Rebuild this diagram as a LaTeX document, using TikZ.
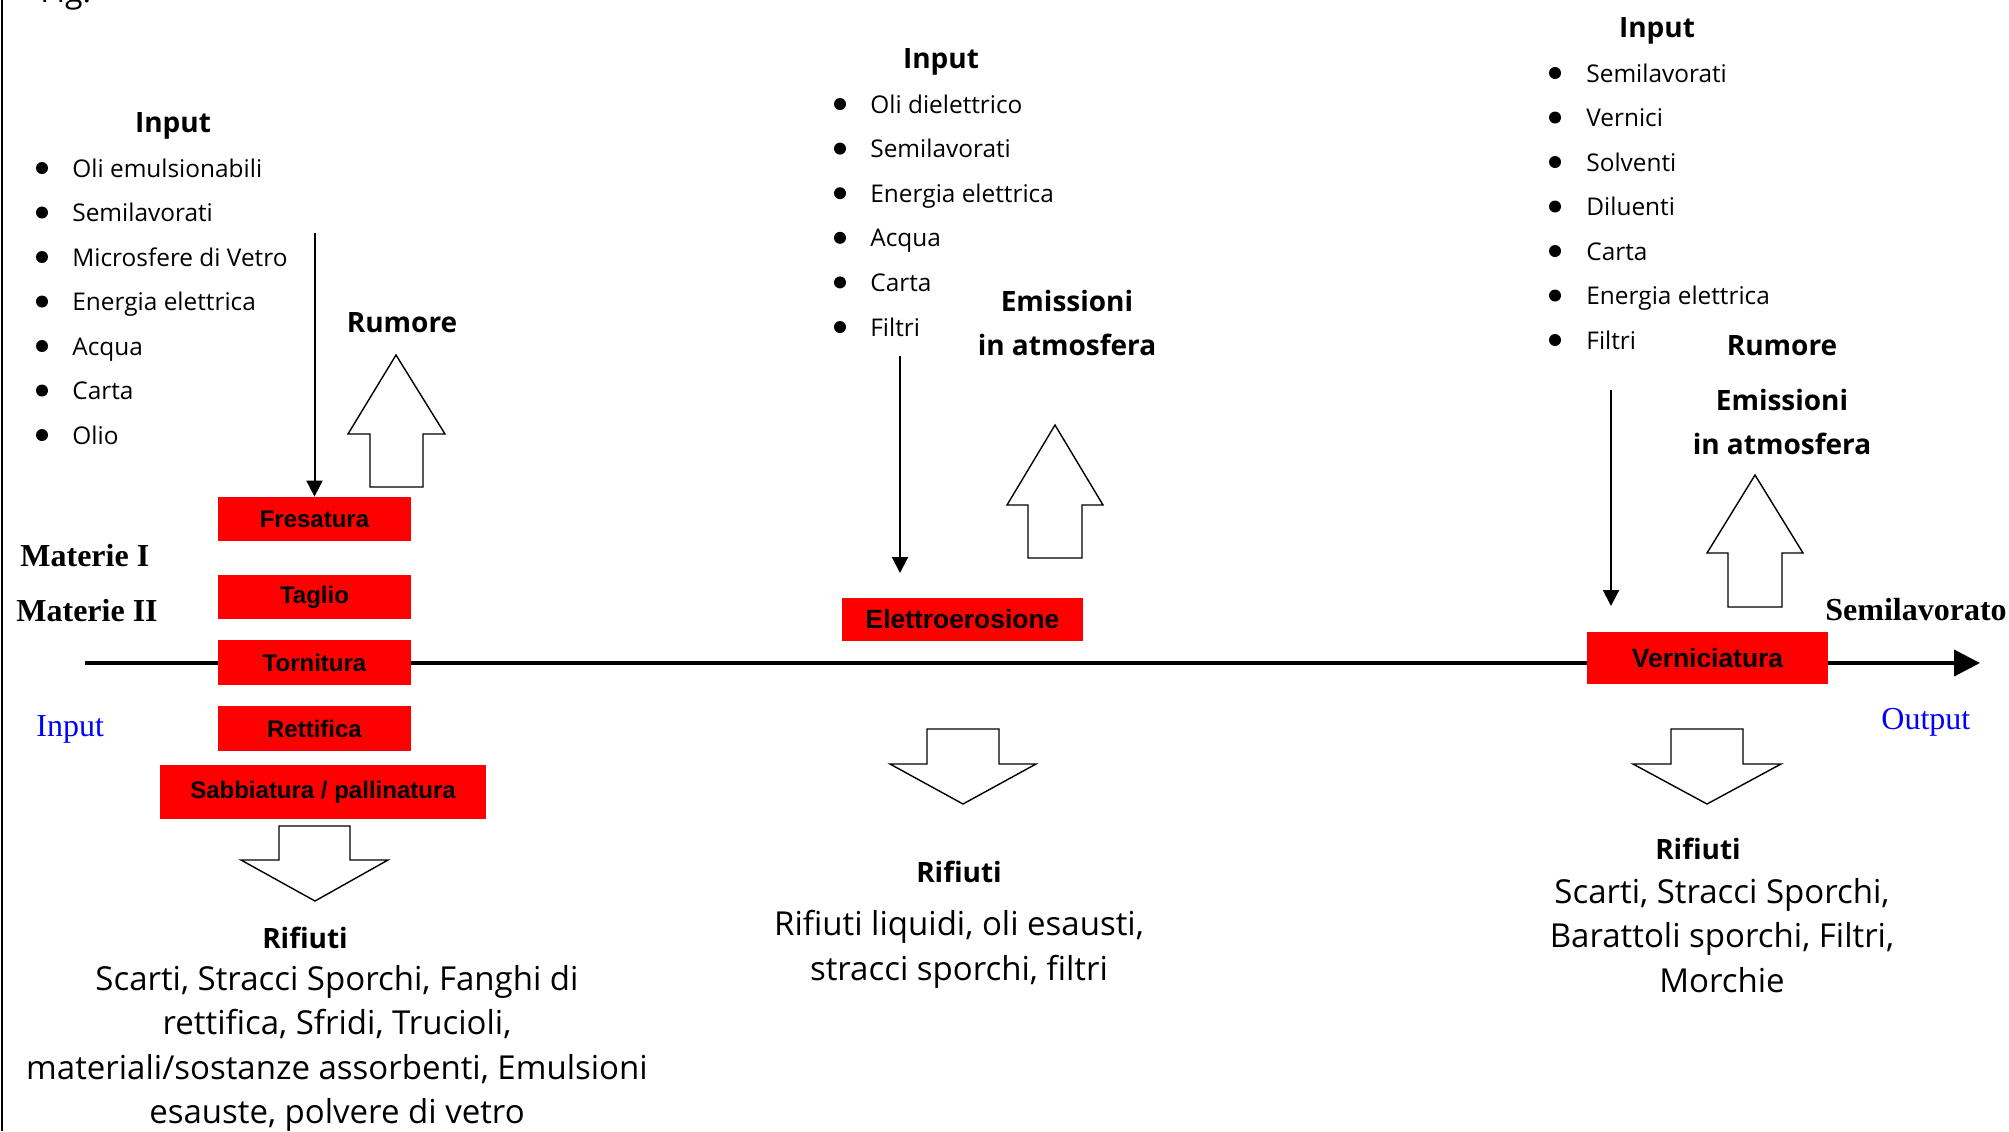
\documentclass[tikz,border=0pt]{standalone}
\usepackage{fontspec}
\setmainfont{Open Sans}
\newfontfamily\arialf{Liberation Sans}
\newfontfamily\timesf{Liberation Serif}
\usetikzlibrary{arrows.meta}
\definecolor{procred}{RGB}{255,0,0}
\definecolor{labelblue}{RGB}{0,0,255}
\begin{document}
\begin{tikzpicture}[x=0.5pt,y=-0.5pt,
  itemtext/.style={anchor=base west, inner sep=0pt, font=\fontsize{12.2}{14}\selectfont},
  headtext/.style={anchor=base, inner sep=0pt, font=\fontsize{14}{16}\selectfont\bfseries},
  wastetext/.style={anchor=base, inner sep=0pt, font=\fontsize{16.5}{18}\selectfont},
  bul/.style={circle, fill=black, inner sep=0pt, minimum size=6pt},
  procbox/.style={fill=procred, inner sep=0pt, text=black, font=\arialf\bfseries\fontsize{12}{14}\selectfont},
  procboxbig/.style={procbox, font=\arialf\bfseries\fontsize{13.2}{15}\selectfont},
  sidelabel/.style={anchor=base west, inner sep=0pt, font=\timesf\bfseries\fontsize{16}{18}\selectfont},
  iolabel/.style={anchor=base west, inner sep=0pt, text=labelblue, font=\timesf\fontsize{16}{18}\selectfont},
  thinarrow/.style={line width=1pt, -{Triangle[width=8pt,length=8pt]}},
  mainline/.style={line width=2pt, -{Triangle[width=13pt,length=13pt]}},
  hollow/.style={draw=black, fill=white, line width=0.7pt, line join=miter}
]
\useasboundingbox (0,0) rectangle (2009,1131);
\begin{scope}
\clip (0,0) rectangle (2009,1131);

% left border and clipped caption
\draw[line width=1pt] (2,0) -- (2,1131);
\node[anchor=base west, inner sep=0pt, font=\fontsize{16}{18}\selectfont] (fig) at (40,2) {Fig.};

% main process line
\coordinate (ms) at (85,663);
\coordinate (me) at (1980,663);
\draw[mainline] (ms) -- (me);

% ---------------- left group ----------------
\node[headtext] (in1) at (173,132) {Input};
\foreach \t [count=\i] in {Oli emulsionabili,Semilavorati,Microsfere di Vetro,Energia elettrica,Acqua,Carta,Olio}{
  \node[bul] (b1\i) at (42,{177+44.5*(\i-1)-9}) {};
  \node[itemtext] (t1\i) at (72,{177+44.5*(\i-1)}) {\t};
}
\node[headtext] (rum1) at (402,332) {Rumore};
\draw[hollow] (396,355) -- (445,434) -- (423,434) -- (423,487) -- (370,487) -- (370,434) -- (348,434) -- cycle;

\node[procbox, minimum width=96.5pt, minimum height=22pt] (fres) at (314.5,519) {Fresatura};
\node[procbox, minimum width=96.5pt, minimum height=22pt] (tagl) at (314.5,597) {Taglio};
\node[procbox, minimum width=96.5pt, minimum height=22.5pt] (torn) at (314.5,662.5) {Tornitura};
\node[procbox, minimum width=96.5pt, minimum height=22.5pt] (rett) at (314.5,728.5) {Rettifica};
\node[procbox, minimum width=163pt, minimum height=27pt] (sabb) at (323,792) {Sabbiatura / pallinatura};

\coordinate (a1s) at (314.5,233);
\draw[thinarrow] (a1s) -- (fres.north);

\node[sidelabel] (mat1) at (20,566) {Materie I};
\node[sidelabel] (mat2) at (16,621) {Materie II};
\node[iolabel] (inp) at (36,736) {Input};

\draw[hollow] (279,826) -- (350,826) -- (350,860) -- (388,860) -- (315,901) -- (241,860) -- (279,860) -- cycle;
\node[headtext] (rif1) at (305,948) {Rifiuti};
\node[wastetext] (w11) at (337,990) {Scarti, Stracci Sporchi, Fanghi di};
\node[wastetext] (w12) at (337,1034.5) {rettifica, Sfridi, Trucioli,};
\node[wastetext] (w13) at (337,1079) {materiali/sostanze assorbenti, Emulsioni};
\node[wastetext] (w14) at (337,1123.5) {esauste, polvere di vetro};

% ---------------- middle group ----------------
\node[headtext] (in2) at (941,68) {Input};
\foreach \t [count=\i] in {Oli dielettrico,Semilavorati,Energia elettrica,Acqua,Carta,Filtri}{
  \node[bul] (b2\i) at (840,{113+44.6*(\i-1)-9}) {};
  \node[itemtext] (t2\i) at (870,{113+44.6*(\i-1)}) {\t};
}
\node[headtext] (em2a) at (1067,311) {Emissioni};
\node[headtext] (em2b) at (1067,355) {in atmosfera};
\draw[hollow] (1055,425) -- (1103,505) -- (1082,505) -- (1082,558) -- (1028,558) -- (1028,505) -- (1007,505) -- cycle;

\coordinate (a2s) at (900,356);
\coordinate (a2e) at (900,573);
\draw[thinarrow] (a2s) -- (a2e);

\node[procboxbig, minimum width=120.5pt, minimum height=21.5pt] (elet) at (962.5,619.5) {Elettroerosione};

\draw[hollow] (927,729) -- (999,729) -- (999,764) -- (1036,764) -- (963,804) -- (890,764) -- (927,764) -- cycle;
\node[headtext] (rif2) at (959,882) {Rifiuti};
\node[wastetext] (w21) at (959,935) {Rifiuti liquidi, oli esausti,};
\node[wastetext] (w22) at (959,980) {stracci sporchi, filtri};

% ---------------- right group ----------------
\node[headtext] (in3) at (1657,37) {Input};
\foreach \t [count=\i] in {Semilavorati,Vernici,Solventi,Diluenti,Carta,Energia elettrica,Filtri}{
  \node[bul] (b3\i) at (1555,{82+44.5*(\i-1)-9}) {};
  \node[itemtext] (t3\i) at (1586,{82+44.5*(\i-1)}) {\t};
}
\node[headtext] (rum3) at (1782,355) {Rumore};
\node[headtext] (em3a) at (1782,410) {Emissioni};
\node[headtext] (em3b) at (1782,454) {in atmosfera};
\draw[hollow] (1755,475) -- (1803,553) -- (1782,553) -- (1782,607) -- (1728,607) -- (1728,553) -- (1707,553) -- cycle;

\coordinate (a3s) at (1611,390);
\coordinate (a3e) at (1611,606);
\draw[thinarrow] (a3s) -- (a3e);

\node[procboxbig, minimum width=120.5pt, minimum height=26pt] (vern) at (1707.5,658) {Verniciatura};
\node[sidelabel] (semi) at (1825,620) {Semilavorato};
\node[iolabel] (outp) at (1881,729) {Output};

\draw[hollow] (1671,729) -- (1743,729) -- (1743,764) -- (1781,764) -- (1707,804) -- (1633,764) -- (1671,764) -- cycle;
\node[headtext] (rif3) at (1698,859) {Rifiuti};
\node[wastetext] (w31) at (1722,903) {Scarti, Stracci Sporchi,};
\node[wastetext] (w32) at (1722,947.5) {Barattoli sporchi, Filtri,};
\node[wastetext] (w33) at (1722,992) {Morchie};

\end{scope}
\end{tikzpicture}
\end{document}
